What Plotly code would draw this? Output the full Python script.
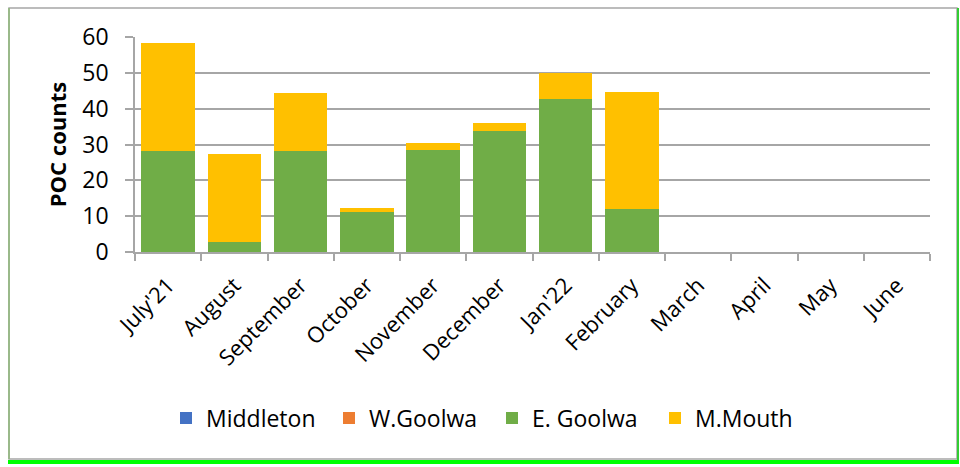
import plotly.graph_objects as go

months = ["July'21", "August", "September", "October", "November", "December",
          "Jan'22", "February", "March", "April", "May", "June"]
middleton = [0, 0, 0, 0, 0, 0, 0, 0, None, None, None, None]
w_goolwa = [0, 0, 0, 0, 0, 0, 0, 0, None, None, None, None]
e_goolwa = [28.3, 2.9, 28.3, 11.3, 28.4, 33.8, 42.7, 12.0, None, None, None, None]
m_mouth = [30.1, 24.5, 16.1, 1.1, 2.1, 2.1, 7.3, 32.7, None, None, None, None]

series = [
    ("Middleton", middleton, "#4472C4"),
    ("W.Goolwa", w_goolwa, "#ED7D31"),
    ("E. Goolwa", e_goolwa, "#70AD47"),
    ("M.Mouth", m_mouth, "#FFC000"),
]

W, H = 960, 467
L, R, T, B = 135, 30, 37, 215
pw, ph = W - L - R, H - T - B
FONT = "Open Sans"

fig = go.Figure()
for name, vals, col in series:
    fig.add_trace(go.Bar(x=months, y=vals, name=name,
                         marker=dict(color=col, line=dict(width=0))))


def px_x(p):
    return (p - L) / pw


def px_y(p):
    return (H - B - p) / ph


# frame around the chart
shapes = [
    dict(type="rect", xref="paper", yref="paper",
         x0=px_x(9), x1=px_x(957), y0=px_y(459), y1=px_y(8),
         line=dict(color="#a6a6a6", width=1.5), layer="below"),
    dict(type="line", xref="paper", yref="paper",
         x0=px_x(9), x1=px_x(9), y0=px_y(459), y1=px_y(8),
         line=dict(color="#8fb87a", width=1.5)),
    dict(type="line", xref="paper", yref="paper",
         x0=px_x(958), x1=px_x(958), y0=px_y(461), y1=px_y(8),
         line=dict(color="#33cc33", width=2)),
    dict(type="line", xref="paper", yref="paper",
         x0=px_x(8), x1=px_x(959), y0=px_y(462), y1=px_y(462),
         line=dict(color="#00ff00", width=4)),
]

fig.update_layout(
    width=W, height=H,
    margin=dict(l=L, r=R, t=T, b=B),
    barmode="stack", bargap=0.19,
    plot_bgcolor="white", paper_bgcolor="white",
    font=dict(family=FONT, size=22, color="#000000"),
    shapes=shapes,
    showlegend=True,
    legend=dict(orientation="h", x=px_x(166), xanchor="left",
                y=px_y(418), yanchor="middle",
                font=dict(family=FONT, size=23, color="#000000"),
                traceorder="normal", itemwidth=30,
                entrywidth=118, entrywidthmode="pixels"),
    xaxis=dict(type="category", tickangle=-45, tickson="boundaries",
               ticks="outside", ticklen=7, tickcolor="#a6a6a6", tickwidth=1.5,
               showline=True, linecolor="#a6a6a6", linewidth=1.5,
               showgrid=False, tickfont=dict(size=22), ticklabelstandoff=10,
               range=[-0.5, 11.5]),
    yaxis=dict(range=[0, 60], dtick=10, ticks="outside", ticklen=8,
               tickcolor="#a6a6a6", tickwidth=1.5,
               showline=True, linecolor="#a6a6a6", linewidth=1.5,
               showgrid=True, gridcolor="#a6a6a6", gridwidth=1.5,
               zeroline=False, tickfont=dict(size=23), ticklabelstandoff=12,
               title=dict(text="<b>POC counts</b>", font=dict(size=22),
                          standoff=10)),
)

fig.write_html("out.html")
